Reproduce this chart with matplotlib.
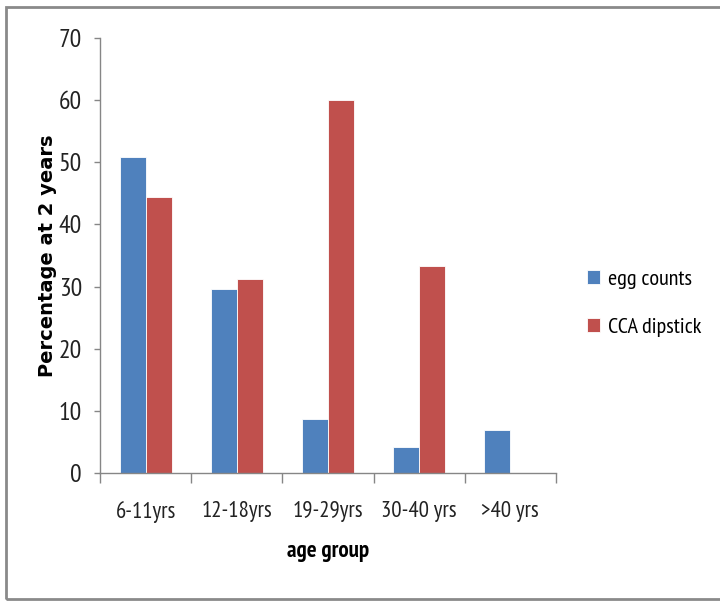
import matplotlib
matplotlib.use("Agg")
import matplotlib.pyplot as plt
from matplotlib.patches import Rectangle
import numpy as np

categories = ["6-11yrs", "12-18yrs", "19-29yrs", "30-40 yrs", ">40 yrs"]
egg_counts = [50.8, 29.6, 8.7, 4.2, 6.9]
cca_dipstick = [44.4, 31.2, 60.0, 33.3, 0.0]
series_names = ["egg counts", "CCA dipstick"]
yticks = [0, 10, 20, 30, 40, 50, 60, 70]

blue = "#4F81BD"
red = "#C0504D"
axis_grey = "#868686"

narrow = ["PT Sans Narrow", "DejaVu Sans"]

fig = plt.figure(figsize=(7.2, 6.03), dpi=100)
ax = fig.add_axes([0.139, 0.2156, 0.633, 0.7214])

x = np.arange(len(categories))
w = 0.285
ax.bar(x - w / 2, egg_counts, w, color=blue, edgecolor="white", linewidth=0.6,
       label=series_names[0])
ax.bar(x + w / 2, cca_dipstick, w, color=red, edgecolor="white", linewidth=0.6,
       label=series_names[1])

ax.set_xlim(-0.5, len(categories) - 0.5)
ax.set_ylim(0, 70)
ax.set_yticks(yticks)
ax.set_yticklabels([str(v) for v in yticks], fontfamily=narrow, fontsize=18.5,
                   color="#222222")

# category labels centred, tick marks at the group boundaries
ax.set_xticks(x)
ax.set_xticklabels(categories, fontfamily=narrow, fontsize=16.5, color="#222222")
ax.set_xticks(np.arange(len(categories) + 1) - 0.5, minor=True)
ax.tick_params(axis="x", which="major", length=0, pad=20)
ax.tick_params(axis="x", which="minor", length=7, color=axis_grey, width=1)
ax.tick_params(axis="y", length=4, color=axis_grey, width=1, pad=9)

for side in ("top", "right"):
    ax.spines[side].set_visible(False)
for side in ("left", "bottom"):
    ax.spines[side].set_color(axis_grey)
    ax.spines[side].set_linewidth(1)

ax.set_ylabel("Percentage at 2 years", fontsize=14, fontweight="bold",
              fontfamily="DejaVu Sans")
ax.yaxis.set_label_coords(-0.094, 0.5)
ax.set_xlabel("age group", fontsize=16.5, fontweight="bold", fontfamily=narrow)
ax.xaxis.set_label_coords(0.5, -0.156)

fig.legend(loc="upper left", bbox_to_anchor=(0.787, 0.585), frameon=False,
           prop={"family": narrow, "size": 16}, handlelength=0.6,
           handleheight=0.6, handletextpad=0.35, labelspacing=1.3)

# outer frame around the chart area (right side runs past the edge)
fig.patches.append(Rectangle((0.009, 0.0066), 1.02, 0.982, transform=fig.transFigure,
                             fill=False, edgecolor="#8a8a8a", linewidth=2))

fig.savefig("out.png", dpi=100)
